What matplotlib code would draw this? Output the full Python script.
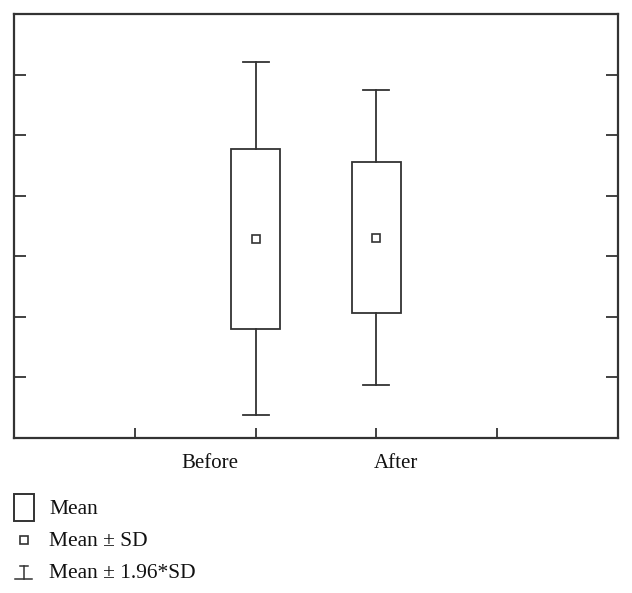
import numpy as np
import matplotlib
matplotlib.use("Agg")
import matplotlib.pyplot as plt
from matplotlib.patches import Rectangle

# Data (arbitrary y units, no labels shown)
groups = ["Before", "After"]
group_pos = [2, 3]
means = [3.29, 3.31]
sds = [1.485, 1.245]
y_ticks = [1, 2, 3, 4, 5, 6]
x_ticks = [1, 2, 3, 4]
label_pos = [1.62, 3.16]
legend_labels = ["Mean", "Mean \u00b1 SD", "Mean \u00b1 1.96*SD"]

col = "#333333"
plt.rcParams['font.family'] = ['Liberation Serif', 'DejaVu Serif']

fig = plt.figure(figsize=(6.32, 5.93), dpi=100)
ax = fig.add_axes([14 / 632, 155 / 593, 604 / 632, 424 / 593])
ax.set_xlim(0, 5)
ax.set_ylim(0, 7)

for s in ax.spines.values():
    s.set_color(col)
    s.set_linewidth(1.6)

ax.set_xticks(x_ticks)
ax.set_xticklabels([])
ax.set_yticks(y_ticks)
ax.set_yticklabels([])
ax.tick_params(axis="x", direction="in", length=7, width=1.3, color=col)
ax.tick_params(axis="y", direction="in", length=8.5, width=1.3, color=col,
               left=True, right=True)

box_w = 0.405
cap_w = 0.215
for x, m, sd in zip(group_pos, means, sds):
    lo, hi = m - sd, m + sd
    wlo, whi = m - 1.96 * sd, m + 1.96 * sd
    ax.add_patch(Rectangle((x - box_w / 2, lo), box_w, hi - lo,
                           fill=False, edgecolor=col, linewidth=1.3))
    ax.plot([x, x], [hi, whi], color=col, lw=1.3)
    ax.plot([x, x], [lo, wlo], color=col, lw=1.3)
    ax.plot([x - cap_w / 2, x + cap_w / 2], [whi, whi], color=col, lw=1.3)
    ax.plot([x - cap_w / 2, x + cap_w / 2], [wlo, wlo], color=col, lw=1.3)
    ax.plot(x, m, "s", ms=5.5, mfc="white", mec=col, mew=1.2)

for lp, g in zip(label_pos, groups):
    ax.text(lp, -25 / 424, g, transform=ax.get_xaxis_transform(),
            ha="center", va="center", fontsize=15, color="#111111")

# Legend drawn by hand below the plot, in pixel coordinates
lg = fig.add_axes([0, 0, 1, 1])
lg.set_xlim(0, 632)
lg.set_ylim(593, 0)
lg.axis("off")
lg.add_patch(Rectangle((14, 494), 20, 27, fill=False, edgecolor=col, linewidth=1.4))
lg.plot(23.5, 540, "s", ms=5.5, mfc="white", mec=col, mew=1.2)
lg.plot([23.5, 23.5], [566, 579], color=col, lw=1.1)
lg.plot([19.5, 27.5], [566, 566], color=col, lw=1.1)
lg.plot([15, 32], [579, 579], color=col, lw=1.1)
for yy, t in zip([509, 542, 573.5], legend_labels):
    lg.text(49, yy, t, ha="left", va="center", fontsize=15.5, color="#111111")

fig.savefig("out.png", dpi=100)
